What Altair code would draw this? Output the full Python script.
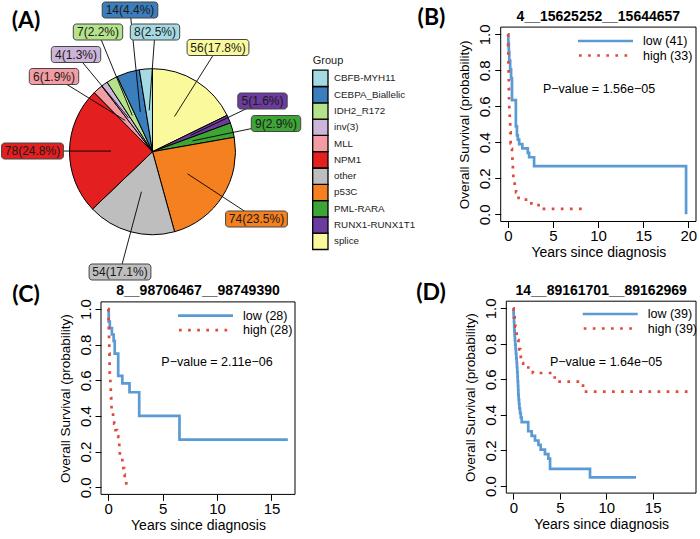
import math
import altair as alt
import pandas as pd

# ---------------- (A) cohort composition ----------------
groups = ["CBFB-MYH11", "CEBPA_Biallelic", "IDH2_R172", "inv(3)", "MLL", "NPM1",
          "other", "p53C", "PML-RARA", "RUNX1-RUNX1T1", "splice"]
counts = [8, 14, 7, 4, 6, 78, 54, 74, 9, 5, 56]
group_colors = ["#A6DAE3", "#3A7EBD", "#B5E38C", "#CDB4D9", "#F39CA3", "#E41F1F",
                "#BEBEBE", "#F4801F", "#3DA535", "#6C3B9E", "#FAFA9C"]

# ---------------- (B)-(D) Kaplan-Meier estimates ----------------
b_title, b_n_low, b_n_high, b_pval = "4__15625252__15644657", 41, 33, "1.56e\u221205"
b_low_t = [0, 0.05, 0.10, 0.15, 0.25, 0.35, 0.45, 0.88, 1.0, 1.1, 1.25, 1.6, 2.2, 2.35, 2.9, 19.75]
b_low_s = [1, 0.951, 0.902, 0.854, 0.805, 0.756, 0.634, 0.488, 0.439, 0.415, 0.390, 0.366,
           0.341, 0.317, 0.268, 0.0]
b_high_t = [0, 0.02, 0.04, 0.06, 0.08, 0.10, 0.12, 0.15, 0.20, 0.25, 0.30, 0.38, 0.45, 0.50,
            0.55, 0.60, 0.75, 0.90, 1.0, 2.0, 3.4, 8.5]
b_high_s = [1, 0.939, 0.879, 0.818, 0.758, 0.697, 0.636, 0.576, 0.515, 0.455, 0.394, 0.364,
            0.333, 0.273, 0.242, 0.182, 0.152, 0.121, 0.091, 0.061, 0.030, 0.030]

c_title, c_n_low, c_n_high, c_pval = "8__98706467__98749390", 28, 28, "2.11e\u221206"
c_low_t = [0, 0.05, 0.15, 0.34, 0.50, 0.60, 0.92, 1.30, 1.96, 2.85, 6.55, 16.5]
c_low_s = [1, 0.929, 0.893, 0.857, 0.821, 0.750, 0.625, 0.583, 0.533, 0.400, 0.267, 0.267]
c_high_t = [0, 0.02, 0.04, 0.06, 0.07, 0.08, 0.10, 0.11, 0.12, 0.13, 0.14, 0.15, 0.20, 0.24,
            0.26, 0.28, 0.31, 0.45, 0.55, 0.68, 0.80, 0.92, 1.02, 1.07, 1.30, 1.40, 1.46,
            1.52, 1.66]
c_high_s = [1, 0.964, 0.929, 0.893, 0.857, 0.821, 0.786, 0.750, 0.714, 0.679, 0.643, 0.607,
            0.571, 0.536, 0.500, 0.464, 0.429, 0.393, 0.357, 0.321, 0.286, 0.250, 0.214,
            0.179, 0.143, 0.107, 0.071, 0.036, 0.0]

d_title, d_n_low, d_n_high, d_pval = "14__89161701__89162969", 39, 39, "1.64e\u221205"
d_low_t = [0, 0.02, 0.04, 0.07, 0.09, 0.11, 0.14, 0.17, 0.20, 0.24, 0.28, 0.32, 0.36, 0.39,
           0.42, 0.45, 0.47, 0.50, 0.52, 0.54, 0.57, 0.61, 0.65, 0.72, 0.80, 0.90, 1.60,
           1.97, 2.33, 2.70, 2.94, 3.40, 3.77, 3.95, 8.25, 13.2]
d_low_s = [1, 0.974, 0.949, 0.923, 0.897, 0.872, 0.846, 0.821, 0.795, 0.769, 0.744, 0.718,
           0.692, 0.667, 0.641, 0.615, 0.590, 0.564, 0.538, 0.513, 0.487, 0.462, 0.436,
           0.410, 0.385, 0.359, 0.308, 0.282, 0.256, 0.231, 0.205, 0.179, 0.154, 0.096,
           0.048, 0.048]
d_high_t = [0, 0.03, 0.08, 0.14, 0.22, 0.29, 0.36, 0.42, 0.55, 0.65, 0.75, 0.80, 0.85, 1.05,
            2.1, 4.45, 7.5, 18.9]
d_high_s = [1, 0.974, 0.949, 0.923, 0.897, 0.872, 0.846, 0.821, 0.795, 0.769, 0.744, 0.718,
            0.692, 0.667, 0.636, 0.587, 0.531, 0.531]

# ---------------- layout ----------------
W, H = 700, 539
FONT = "Liberation Sans"
BLUE, RED = "#5B9BD5", "#E04A3C"

PIE_CX, PIE_CY, PIE_R = 152.5, 151.7, 83
# label box centres for the repelled pie labels (group order)
label_pos = [(155, 32), (130, 10), (98, 32), (76, 54.5), (54, 76.5), (32.5, 151),
             (120, 272), (256.5, 219), (276, 123.5), (262.5, 101), (218, 47.5)]
# legend keys: left edge, top of first key, key size
KEY_X, KEY_Y, KEY_W, KEY_H = 312.7, 70.2, 15.3, 16.3

total = sum(counts)
rows = []
start = 0.0
# slices run clockwise from 12 o'clock in reverse legend order
for i in reversed(range(len(groups))):
    mid = (start + counts[i] / 2) / total * 2 * math.pi
    ax = PIE_CX + 0.5 * PIE_R * math.sin(mid)
    ay = PIE_CY - 0.5 * PIE_R * math.cos(mid)
    start += counts[i]
    txt = f"{counts[i]}({counts[i] / total * 100:.1f}%)"
    lx, ly = label_pos[i]
    w = len(txt) * 6.2 + 6
    rows.append(dict(group=groups[i], idx=i, count=counts[i], text=txt, ax=ax, ay=ay,
                     lx=lx, ly=ly, x1=lx - w / 2, x2=lx + w / 2, y1=ly - 8, y2=ly + 8,
                     kx1=KEY_X, kx2=KEY_X + KEY_W, ky1=KEY_Y + i * KEY_H,
                     ky2=KEY_Y + (i + 1) * KEY_H, ty=KEY_Y + (i + 0.5) * KEY_H,
                     tx=KEY_X + KEY_W + 6))
pie_df = pd.DataFrame(rows)

color_scale = alt.Scale(domain=groups, range=group_colors)
px = lambda f: alt.X(f, type="quantitative", scale=None, axis=None)
py = lambda f: alt.Y(f, type="quantitative", scale=None, axis=None)
group_fill = alt.Color("group:N", scale=color_scale, legend=None)

pie = alt.Chart(pie_df).mark_arc(outerRadius=PIE_R, stroke="black", strokeWidth=1).encode(
    theta=alt.Theta("count:Q", stack=True),
    order=alt.Order("idx:Q", sort="descending"),
    color=group_fill,
    x=alt.value(PIE_CX), y=alt.value(PIE_CY),
)
leaders = alt.Chart(pie_df).mark_rule(color="black", strokeWidth=0.9).encode(
    x=px("lx"), y=py("ly"), x2="ax:Q", y2="ay:Q")
boxes = alt.Chart(pie_df).mark_rect(cornerRadius=3, stroke="#444", strokeWidth=1).encode(
    x=px("x1"), x2="x2:Q", y=py("y1"), y2="y2:Q", color=group_fill)
labels = alt.Chart(pie_df).mark_text(font=FONT, fontSize=12, color="#1a1a1a").encode(
    x=px("lx"), y=py("ly"), text="text:N")

# group legend
keys = alt.Chart(pie_df).mark_rect(stroke="black", strokeWidth=1.3).encode(
    x=px("kx1"), x2="kx2:Q", y=py("ky1"), y2="ky2:Q", color=group_fill)
key_text = alt.Chart(pie_df).mark_text(font=FONT, fontSize=9.8, align="left",
                                       baseline="middle", color="#222").encode(
    x=px("tx"), y=py("ty"), text="group:N")
key_title = alt.Chart(pd.DataFrame({"t": ["Group"]})).mark_text(
    font=FONT, fontSize=11, align="left", baseline="middle", color="#222").encode(
    x=alt.value(KEY_X), y=alt.value(KEY_Y - 9.5), text="t:N")

panel_a = alt.layer(pie, leaders, boxes, labels, keys, key_text, key_title)


def km_panel(low_t, low_s, high_t, high_s, n_low, n_high, pval, title,
             x_dom, x_rng, y_rng, x_ticks, leg_xy, pval_xy, title_y):
    x_scale = alt.Scale(domain=x_dom, range=x_rng, nice=False, zero=False)
    y_scale = alt.Scale(domain=[-0.04, 1.04], range=y_rng, nice=False, zero=False)
    x_axis = alt.Axis(orient="bottom", offset=y_rng[0] - H, values=x_ticks, domain=False,
                      grid=False, tickSize=6, tickColor="black", labelColor="black",
                      labelFont=FONT, labelFontSize=15, labelPadding=1, labelFlush=False,
                      labelOverlap=False, title="Years since diagnosis", titleFont=FONT,
                      titleFontSize=14, titleFontWeight="normal", titleColor="black",
                      titlePadding=2)
    y_axis = alt.Axis(orient="left", offset=-x_rng[0], values=[0, 0.2, 0.4, 0.6, 0.8, 1.0],
                      format=".1f", domain=False, grid=False, tickSize=6, tickColor="black",
                      labelColor="black", labelFont=FONT, labelFontSize=15, labelAngle=270,
                      labelAlign="center", labelBaseline="bottom", labelPadding=2,
                      labelFlush=False, labelOverlap=False,
                      title="Overall Survival (probability)", titleFont=FONT,
                      titleFontSize=13.5, titleFontWeight="normal", titleColor="black",
                      titlePadding=6)
    X = alt.X("t:Q", scale=x_scale, axis=x_axis)
    Y = alt.Y("s:Q", scale=y_scale, axis=y_axis)

    frame = alt.Chart(pd.DataFrame({"t": [x_dom[0]], "t2": [x_dom[1]],
                                    "s": [-0.04], "s2": [1.04]})).mark_rect(
        fillOpacity=0, stroke="black", strokeWidth=1).encode(x=X, x2="t2:Q", y=Y, y2="s2:Q")
    low = alt.Chart(pd.DataFrame({"t": low_t, "s": low_s})).mark_line(
        interpolate="step-after", color=BLUE, strokeWidth=2.7).encode(x=X, y=Y)
    high = alt.Chart(pd.DataFrame({"t": high_t, "s": high_s})).mark_line(
        interpolate="step-after", color=RED, strokeWidth=2.7,
        strokeDash=[2.7, 6.4]).encode(x=X, y=Y)

    lx, ly = leg_xy
    leg = pd.DataFrame({"label": [f"low ({n_low})", f"high ({n_high})"]})
    key_low = alt.Chart(leg.head(1)).mark_rule(color=BLUE, strokeWidth=2.7).encode(
        x=alt.value(lx), x2=alt.value(lx + 55), y=alt.value(ly))
    key_high = alt.Chart(leg.head(1)).mark_rule(color=RED, strokeWidth=2.7,
                                                strokeDash=[2.7, 6.4]).encode(
        x=alt.value(lx + 1), x2=alt.value(lx + 55), y=alt.value(ly + 14.5))
    leg_low = alt.Chart(leg.iloc[[0]]).mark_text(
        font=FONT, fontSize=12.5, align="left", baseline="middle", color="black").encode(
        x=alt.value(lx + 65), y=alt.value(ly), text="label:N")
    leg_high = alt.Chart(leg.iloc[[1]]).mark_text(
        font=FONT, fontSize=12.5, align="left", baseline="middle", color="black").encode(
        x=alt.value(lx + 65), y=alt.value(ly + 14.5), text="label:N")

    ann = pd.DataFrame({"p": [f"P\u2212value = {pval}"], "title": [title]})
    ptxt = alt.Chart(ann).mark_text(font=FONT, fontSize=12.5, baseline="middle",
                                    color="black").encode(
        x=alt.value(pval_xy[0]), y=alt.value(pval_xy[1]), text="p:N")
    ttl = alt.Chart(ann).mark_text(font=FONT, fontSize=14, fontWeight="bold",
                                   baseline="middle", color="black").encode(
        x=alt.value((x_rng[0] + x_rng[1]) / 2), y=alt.value(title_y), text="title:N")
    return alt.layer(frame, low, high, key_low, key_high, leg_low, leg_high, ptxt, ttl)


panel_b = km_panel(b_low_t, b_low_s, b_high_t, b_high_s, b_n_low, b_n_high, b_pval, b_title,
                   [-0.8, 20.85], [500.7, 696], [221.5, 27.1], [0, 5, 10, 15, 20],
                   (578, 41), (599, 89), 17)
panel_c = km_panel(c_low_t, c_low_s, c_high_t, c_high_s, c_n_low, c_n_high, c_pval, c_title,
                   [-0.66, 17.16], [101, 295], [494.4, 301.9], [0, 5, 10, 15],
                   (178, 315.7), (217, 361.7), 291)
panel_d = km_panel(d_low_t, d_low_s, d_high_t, d_high_s, d_n_low, d_n_high, d_pval, d_title,
                   [-0.76, 19.66], [506.3, 696], [493.1, 301.2], [0, 5, 10, 15],
                   (582.7, 314), (606, 361.7), 291)

tags = pd.DataFrame({"tag": ["(A)", "(B)", "(C)", "(D)"],
                     "x": [26, 431.5, 26, 431], "y": [21, 18, 295, 293]})
tag_layer = alt.Chart(tags).mark_text(font="Lato", fontSize=23, fontWeight="bold",
                                      baseline="middle", color="black").encode(
    x=px("x"), y=py("y"), text="tag:N")

chart = alt.layer(panel_a, panel_b, panel_c, panel_d, tag_layer).resolve_scale(
    x="independent", y="independent").properties(
    width=W, height=H, padding=0, autosize=alt.AutoSizeParams(type="none"),
    background="white").configure_view(strokeWidth=0)

chart.save("out.html", embed_options={"renderer": "svg", "actions": False})
